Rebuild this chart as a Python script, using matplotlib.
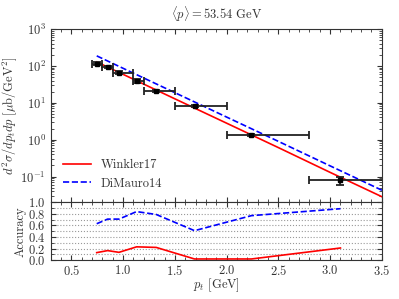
import numpy as np
import matplotlib
matplotlib.use("Agg")
import matplotlib.pyplot as plt
from matplotlib.ticker import MultipleLocator, LogLocator, NullFormatter

plt.rcParams.update({
    "font.family": "cmr10",
    "mathtext.fontset": "cm",
    "axes.formatter.use_mathtext": True,
    "font.size": 9,
    "xtick.direction": "in",
    "ytick.direction": "in",
    "xtick.top": True,
    "ytick.right": True,
    "axes.edgecolor": "#333333",
    "xtick.color": "#333333",
    "ytick.color": "#333333",
    "text.color": "#333333",
    "axes.labelcolor": "#333333",
})

# Data points
pt_mean = [0.745, 0.85, 0.96, 1.13, 1.32, 1.69, 2.24, 3.10]
bin_lo = [0.70, 0.80, 0.90, 1.10, 1.20, 1.50, 2.00, 2.80]
bin_hi = [0.80, 0.90, 1.10, 1.20, 1.50, 2.00, 2.80, 4.00]
xsec = [116, 93, 66, 39, 20.8, 8.1, 1.32, 0.079]
xsec_err = [8, 7, 5, 4, 1.5, 0.6, 0.1, 0.02]

# Model curves
model_pt = [0.745, 1.0, 1.5, 2.0, 2.5, 3.0, 3.6]
winkler17 = [128, 59, 12.8, 2.8, 0.61, 0.13, 0.021]
dimauro14 = [187, 86, 18.8, 4.1, 0.90, 0.195, 0.0315]

# Accuracy
acc_winkler = [0.13, 0.165, 0.135, 0.23, 0.22, 0.02, 0.02, 0.21]
acc_dimauro = [0.63, 0.71, 0.71, 0.84, 0.79, 0.51, 0.77, 0.89]

fig = plt.figure(figsize=(3.99, 2.99), dpi=100)
gs = fig.add_gridspec(2, 1, height_ratios=[3, 1], hspace=0,
                      left=0.127, right=0.957, top=0.903, bottom=0.130)
ax = fig.add_subplot(gs[0])
ax2 = fig.add_subplot(gs[1], sharex=ax)

xerr_lo = [m - l for m, l in zip(pt_mean, bin_lo)]
xerr_hi = [h - m for m, h in zip(pt_mean, bin_hi)]
ax.errorbar(pt_mean, xsec, xerr=[xerr_lo, xerr_hi], yerr=xsec_err,
            fmt="s", color="k", ecolor="#222222", ms=3.5, capsize=3,
            elinewidth=1.3, capthick=1.3, zorder=3)
ax.plot(model_pt, winkler17, color="red", lw=1.2, label="Winkler17")
ax.plot(model_pt, dimauro14, color="blue", lw=1.2, ls="--", label="DiMauro14")
ax.set_yscale("log")
ax.set_ylim(0.02, 1000)
ax.set_xlim(0.3, 3.5)
ax.yaxis.set_major_locator(LogLocator(base=10, numticks=10))
ax.yaxis.set_minor_locator(LogLocator(base=10, subs=np.arange(2, 10), numticks=10))
ax.yaxis.set_minor_formatter(NullFormatter())
ax.xaxis.set_minor_locator(MultipleLocator(0.1))
ax.tick_params(labelbottom=False)
ax.set_ylabel(r"$d^2\sigma/dp_tdp\ [\mu\mathrm{b/GeV}^2]$", labelpad=1)
ax.set_title(r"$\langle p\rangle = 53.54$ GeV", fontsize=9, pad=7)
ax.legend(loc="lower left", frameon=False, fontsize=9, handlelength=2.2,
          borderaxespad=0.6)

ax2.plot(pt_mean, acc_winkler, color="red", lw=1.2)
ax2.plot(pt_mean, acc_dimauro, color="blue", lw=1.2, ls="--")
ax2.set_ylim(0, 1.0)
ax2.yaxis.set_major_locator(MultipleLocator(0.2))
ax2.yaxis.set_minor_locator(MultipleLocator(0.1))
ax2.xaxis.set_major_locator(MultipleLocator(0.5))
ax2.xaxis.set_minor_locator(MultipleLocator(0.1))
ax2.tick_params(axis="x", pad=2.5)
ax2.grid(axis="y", which="both", ls=":", color="#999999", lw=0.8)
ax2.set_ylabel("Accuracy", labelpad=1)
ax2.set_xlabel(r"$p_t$ [GeV]", labelpad=-1)
ax2.set_xlim(0.3, 3.5)

fig.savefig("out.png", dpi=100)
